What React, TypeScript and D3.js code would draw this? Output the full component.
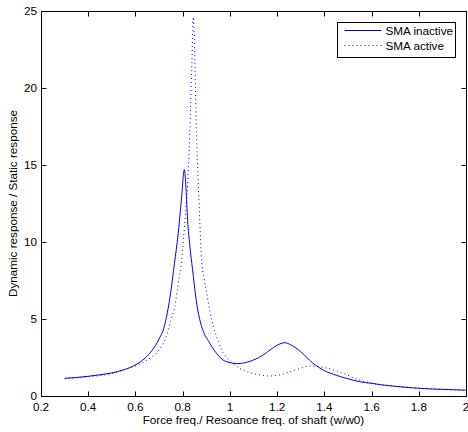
import { useEffect, useRef } from "react";
import * as d3 from "d3";

// SMA inactive (solid) : [freq ratio, response ratio]
const inactiveFreq = [0.30, 0.35, 0.40, 0.45, 0.50, 0.55, 0.60, 0.64, 0.67, 0.70, 0.72, 0.735, 0.75, 0.765, 0.78, 0.795, 0.807, 0.814, 0.821, 0.83, 0.842, 0.855, 0.865, 0.875, 0.89, 0.91, 0.93, 0.95, 0.97, 1.0, 1.03, 1.07, 1.10, 1.14, 1.17, 1.20, 1.233, 1.26, 1.30, 1.35, 1.40, 1.45, 1.50, 1.55, 1.60, 1.65, 1.70, 1.80, 1.90, 2.0];
const inactiveResp = [1.15, 1.2, 1.28, 1.38, 1.50, 1.70, 2.02, 2.45, 2.95, 3.7, 4.4, 5.4, 6.8, 8.6, 10.4, 12.8, 14.7, 13.5, 11.4, 9.8, 8.2, 6.5, 5.5, 4.8, 4.1, 3.55, 3.05, 2.65, 2.35, 2.17, 2.1, 2.18, 2.34, 2.65, 2.99, 3.3, 3.46, 3.3, 2.88, 2.15, 1.65, 1.35, 1.12, 0.93, 0.82, 0.71, 0.63, 0.5, 0.43, 0.38];

// SMA active (dotted)
const activeFreq = [0.30, 0.40, 0.50, 0.56, 0.59, 0.65, 0.70, 0.73, 0.75, 0.77, 0.78, 0.796, 0.81, 0.824, 0.83, 0.838, 0.845, 0.852, 0.859, 0.864, 0.872, 0.880, 0.89, 0.902, 0.915, 0.93, 0.95, 0.965, 0.98, 1.0, 1.03, 1.06, 1.10, 1.17, 1.22, 1.255, 1.30, 1.34, 1.38, 1.42, 1.45, 1.48, 1.537, 1.56, 1.607, 1.65, 1.70, 1.80, 1.90, 2.0];
const activeResp = [1.12, 1.25, 1.45, 1.75, 1.9, 2.34, 2.99, 3.85, 4.9, 6.1, 7.2, 8.83, 11.5, 14.7, 17.0, 21.0, 24.6, 21.5, 16.6, 14.7, 11.5, 8.83, 7.7, 6.67, 5.5, 4.5, 3.6, 2.99, 2.6, 2.3, 1.9, 1.65, 1.45, 1.30, 1.4, 1.58, 1.8, 1.95, 1.9, 1.78, 1.64, 1.47, 1.1, 0.98, 0.82, 0.72, 0.64, 0.51, 0.43, 0.38];

const xTicks = [0.2, 0.4, 0.6, 0.8, 1, 1.2, 1.4, 1.6, 1.8, 2];
const yTicks = [0, 5, 10, 15, 20, 25];
const seriesNames = ["SMA inactive", "SMA active"];

export default function App() {
  const ref = useRef<SVGSVGElement>(null);
  const svgWidth = 468;
  const svgHeight = 432;
  const left = 41, right = 466, top = 11, bottom = 396;
  const font = "'Liberation Sans', Arial, Helvetica, sans-serif";

  useEffect(() => {
    const svg = d3.select(ref.current);
    svg.selectAll("*").remove();

    const x = d3.scaleLinear().domain([0.2, 2]).range([left, right]);
    const y = d3.scaleLinear().domain([0, 25]).range([bottom, top]);

    const line = d3.line<[number, number]>()
      .x(d => x(d[0]))
      .y(d => y(d[1]))
      .curve(d3.curveMonotoneX);

    const inactive = inactiveFreq.map((f, i) => [f, inactiveResp[i]] as [number, number]);
    const active = activeFreq.map((f, i) => [f, activeResp[i]] as [number, number]);

    svg.append("path")
      .attr("d", line(active))
      .attr("fill", "none")
      .attr("stroke", "#0000ff")
      .attr("stroke-width", 1)
      .attr("stroke-dasharray", "1,3");

    svg.append("path")
      .attr("d", line(inactive))
      .attr("fill", "none")
      .attr("stroke", "#0000ff")
      .attr("stroke-width", 1);

    // box
    const g = svg.append("g").attr("transform", "translate(0.5,0.5)");
    g.append("rect")
      .attr("x", left).attr("y", top)
      .attr("width", right - left).attr("height", bottom - top)
      .attr("fill", "none").attr("stroke", "#000");

    // ticks on all four sides, pointing in
    xTicks.forEach(t => {
      const px = Math.round(x(t));
      g.append("line").attr("x1", px).attr("x2", px).attr("y1", bottom).attr("y2", bottom - 5).attr("stroke", "#000");
      g.append("line").attr("x1", px).attr("x2", px).attr("y1", top).attr("y2", top + 5).attr("stroke", "#000");
      svg.append("text")
        .attr("x", x(t)).attr("y", 410.5)
        .attr("text-anchor", "middle")
        .style("font-family", font).style("font-size", "11.7px")
        .text(String(t));
    });
    yTicks.forEach(t => {
      const py = Math.round(y(t));
      g.append("line").attr("x1", left).attr("x2", left + 5).attr("y1", py).attr("y2", py).attr("stroke", "#000");
      g.append("line").attr("x1", right).attr("x2", right - 5).attr("y1", py).attr("y2", py).attr("stroke", "#000");
      svg.append("text")
        .attr("x", 37).attr("y", y(t) + 3.5)
        .attr("text-anchor", "end")
        .style("font-family", font).style("font-size", "11.7px")
        .text(String(t));
    });

    svg.append("text")
      .attr("x", (left + right) / 2).attr("y", 424)
      .attr("text-anchor", "middle")
      .style("font-family", font).style("font-size", "11.7px")
      .text("Force freq./ Resoance freq. of shaft (w/w0)");

    svg.append("text")
      .attr("transform", `translate(17, ${(top + bottom) / 2}) rotate(-90)`)
      .attr("text-anchor", "middle")
      .style("font-family", font).style("font-size", "11.7px")
      .text("Dynamic response / Static response");

    // legend
    const lg = svg.append("g").attr("transform", "translate(337.5,22.5)");
    lg.append("rect").attr("width", 118).attr("height", 35).attr("fill", "#fff").attr("stroke", "#000");
    seriesNames.forEach((name, i) => {
      const ly = 8 + i * 15;
      lg.append("line")
        .attr("x1", 7).attr("x2", 44).attr("y1", ly).attr("y2", ly)
        .attr("stroke", "#0000ff")
        .attr("stroke-dasharray", i === 1 ? "1,3" : null);
      lg.append("text")
        .attr("x", 48).attr("y", ly + 4)
        .style("font-family", font).style("font-size", "11.7px")
        .text(name);
    });
  }, []);

  return (
    <svg ref={ref} width={svgWidth} height={svgHeight}
      style={{ position: "absolute", left: 0, top: 0, background: "#fff" }} />
  );
}
